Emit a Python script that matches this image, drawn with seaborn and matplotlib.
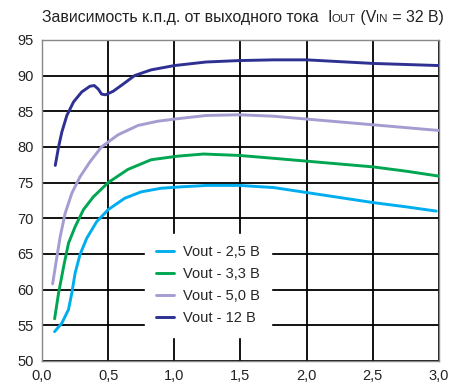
import matplotlib
matplotlib.use('Agg')
import matplotlib.pyplot as plt
from matplotlib.font_manager import FontProperties
import pandas as pd
import seaborn as sns

# Значения
ток_25 = [0.095, 0.15, 0.20, 0.225, 0.25, 0.287, 0.338, 0.4125, 0.5, 0.625, 0.75, 0.9, 1.05, 1.25, 1.49, 1.75, 2.0, 2.25, 2.5, 2.75, 2.98]
кпд_25 = [54.1, 55.3, 57.2, 59.5, 62.3, 64.9, 67.2, 69.5, 71.2, 72.8, 73.7, 74.2, 74.4, 74.6, 74.6, 74.3, 73.6, 72.9, 72.2, 71.6, 71.0]

ток_33 = [0.095, 0.125, 0.163, 0.20, 0.25, 0.313, 0.388, 0.5, 0.65, 0.825, 1.025, 1.22, 1.49, 1.75, 2.0, 2.25, 2.5, 2.75, 3.0]
кпд_33 = [55.9, 59.5, 63.2, 66.5, 68.8, 71.2, 73.0, 75.0, 76.85, 78.2, 78.7, 79.0, 78.8, 78.4, 78.0, 77.6, 77.2, 76.6, 75.9]

ток_50 = [0.08, 0.1125, 0.137, 0.175, 0.225, 0.287, 0.362, 0.45, 0.575, 0.725, 0.875, 1.025, 1.24, 1.49, 1.75, 2.0, 2.25, 2.5, 2.75, 3.0]
кпд_50 = [60.8, 64.6, 67.4, 70.7, 73.5, 75.8, 77.9, 80.0, 81.7, 83.0, 83.6, 83.95, 84.4, 84.5, 84.3, 83.9, 83.5, 83.1, 82.7, 82.3]

ток_12 = [0.10, 0.125, 0.15, 0.1875, 0.238, 0.30, 0.362, 0.395, 0.425, 0.45, 0.48, 0.538, 0.613, 0.70, 0.825, 1.0, 1.24, 1.49, 1.75, 2.0, 2.25, 2.5, 2.75, 3.0]
кпд_12 = [77.4, 80.0, 82.1, 84.4, 86.3, 87.7, 88.5, 88.6, 88.1, 87.4, 87.3, 87.8, 88.8, 90.0, 90.8, 91.4, 91.9, 92.1, 92.2, 92.2, 91.95, 91.7, 91.55, 91.4]

подписи = ['Vout - 2,5 В', 'Vout - 3,3 В', 'Vout - 5,0 В', 'Vout - 12 В']
цвета = ['#00aeef', '#00a651', '#a39dd1', '#2e3192']

x_тики = [0.0, 0.5, 1.0, 1.5, 2.0, 2.5, 3.0]
y_тики = [50, 55, 60, 65, 70, 75, 80, 85, 90, 95]

данные = pd.concat([
    pd.DataFrame({'ток': т, 'кпд': к, 'серия': п})
    for т, к, п in zip([ток_25, ток_33, ток_50, ток_12], [кпд_25, кпд_33, кпд_50, кпд_12], подписи)
], ignore_index=True)

sns.set_style('white')
plt.rcParams['font.family'] = ['Liberation Sans', 'DejaVu Sans']

fig = plt.figure(figsize=(4.52, 3.91), dpi=100)
ax = fig.add_axes([0.093, 0.077, 0.878, 0.821])

sns.lineplot(data=данные, x='ток', y='кпд', hue='серия', palette=цвета,
             hue_order=подписи, linewidth=2.1, sort=False, errorbar=None,
             ax=ax, zorder=3)

# сетка отдельными линиями по делениям, над фоном, но под кривыми
for v in x_тики:
    ax.axvline(v, color='black', linewidth=1.3, zorder=2.8)
for v in y_тики:
    ax.axhline(v, color='black', linewidth=1.3, zorder=2.8)

ax.set_xlim(0, 3)
ax.set_ylim(50, 95)
ax.set_xticks(x_тики)
ax.set_xticklabels([f'{v:.1f}'.replace('.', ',') for v in x_тики])
ax.set_yticks(y_тики)
ax.tick_params(length=0, labelsize=10.5, colors='#222222', pad=6)
for s in ax.spines.values():
    s.set_color('#888888')
    s.set_linewidth(1)
    s.set_zorder(2.9)
ax.set_xlabel('')
ax.set_ylabel('')

leg = ax.legend(loc='center', bbox_to_anchor=(0.418, 0.235), frameon=True,
                facecolor='white', edgecolor='white', framealpha=1, fancybox=False,
                fontsize=10.5, handlelength=1.2, handletextpad=0.6, labelspacing=0.55,
                borderpad=0.8)
leg.set_zorder(5)
for h in leg.get_lines():
    h.set_linewidth(2.1)

# заголовок с индексами уменьшенного размера
части = [('Зависимость к.п.д. от выходного тока  ', 1.0), ('I', 1.0), ('OUT', 0.72),
         (' (V', 1.0), ('IN', 0.72), (' = 32 В)', 1.0)]
renderer = fig.canvas.get_renderer()

def ширина(текст, размер):
    fp = FontProperties(family=['Liberation Sans', 'DejaVu Sans'], size=размер)
    w, h, d = renderer.get_text_width_height_descent(текст, fp, ismath=False)
    return w / fig.bbox.width

полная = sum(ширина(т, 10 * k) for т, k in части)
размер = 10 * (405 / 452) / полная
x0 = 42 / 452
for текст, k in части:
    fig.text(x0, 1 - 22 / 391, текст, fontsize=размер * k, color='#222222', va='baseline')
    x0 += ширина(текст, размер * k)

fig.savefig('out.png', dpi=100)
